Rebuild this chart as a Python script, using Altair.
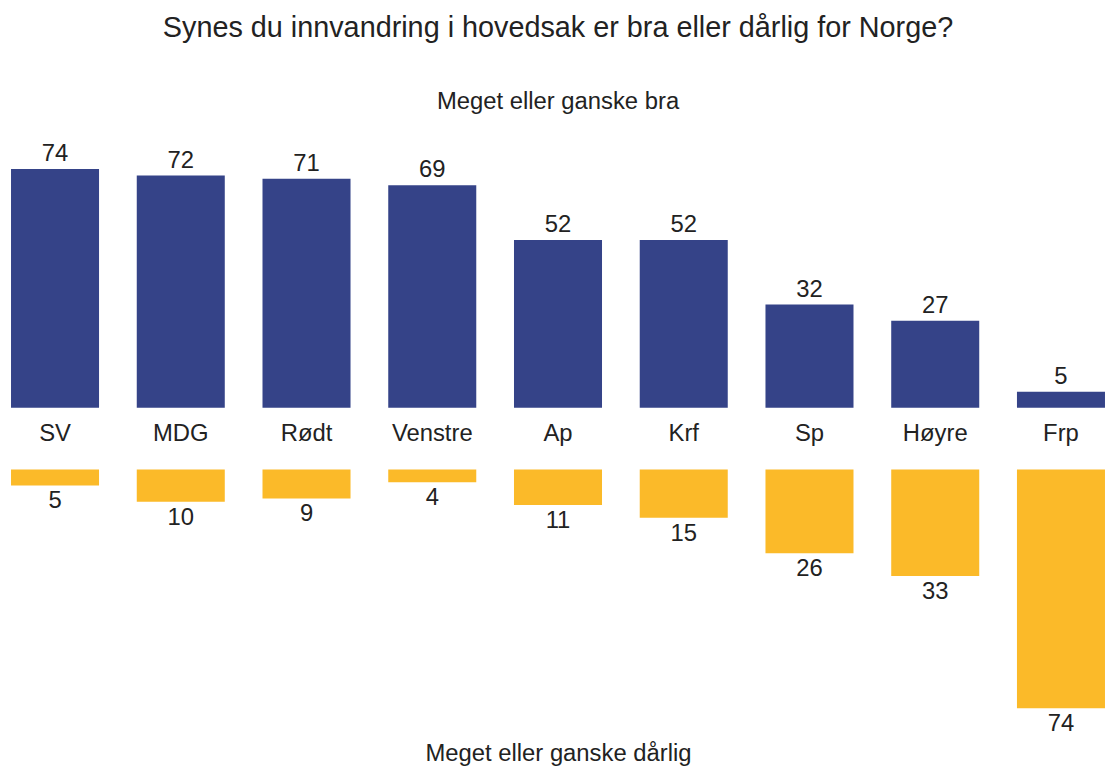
import altair as alt
import pandas as pd

parties = ["SV", "MDG", "Rødt", "Venstre", "Ap", "Krf", "Sp", "Høyre", "Frp"]
bra = [74, 72, 71, 69, 52, 52, 32, 27, 5]
darlig = [5, 10, 9, 4, 11, 15, 26, 33, 74]

df = pd.DataFrame({"parti": parties, "bra": bra, "darlig": darlig})

FONT = "Liberation Sans"
BLUE = "#354388"
YELLOW = "#FBBA29"
TXT = "#222222"
FS = 24

xscale = alt.Scale(domain=parties, paddingInner=0.3, paddingOuter=0.024)

top_base = alt.Chart(df).encode(
    x=alt.X("parti:N", sort=parties, scale=xscale,
            axis=alt.Axis(title=None, labelAngle=0, ticks=False, domain=False,
                          labelFontSize=FS, labelFont=FONT, labelColor=TXT,
                          labelPadding=14)),
    y=alt.Y("bra:Q", scale=alt.Scale(domain=[0, 80], nice=False), axis=None),
)
top = alt.layer(
    top_base.mark_bar(color=BLUE),
    top_base.mark_text(font=FONT, fontSize=FS, color=TXT, baseline="alphabetic", dy=-8).encode(text="bra:Q"),
).properties(
    width=1108, height=260,
    title=alt.TitleParams("Meget eller ganske bra", fontSize=FS, font=FONT, color=TXT,
                          fontWeight="normal", anchor="middle", offset=29),
)

bot_base = alt.Chart(df).encode(
    x=alt.X("parti:N", sort=parties, scale=xscale,
            axis=alt.Axis(title="Meget eller ganske dårlig", labels=False, ticks=False, domain=False,
                          titleFontSize=FS, titleFont=FONT, titleColor=TXT,
                          titleFontWeight="normal", titlePadding=14)),
    y=alt.Y("darlig:Q", scale=alt.Scale(domain=[0, 80], nice=False, reverse=True), axis=None),
)
bot = alt.layer(
    bot_base.mark_bar(color=YELLOW),
    bot_base.mark_text(font=FONT, fontSize=FS, color=TXT, baseline="top", dy=4).encode(text="darlig:Q"),
).properties(width=1108, height=260)

chart = alt.vconcat(top, bot, spacing=24).properties(
    padding={"left": 0, "right": 0, "top": 3, "bottom": 0},
    title=alt.TitleParams("Synes du innvandring i hovedsak er bra eller dårlig for Norge?",
                          fontSize=29, font=FONT, color=TXT, fontWeight="normal",
                          anchor="middle", offset=47),
).configure_view(stroke=None)

chart.save("out.html", embed_options={"renderer": "svg", "actions": False})
